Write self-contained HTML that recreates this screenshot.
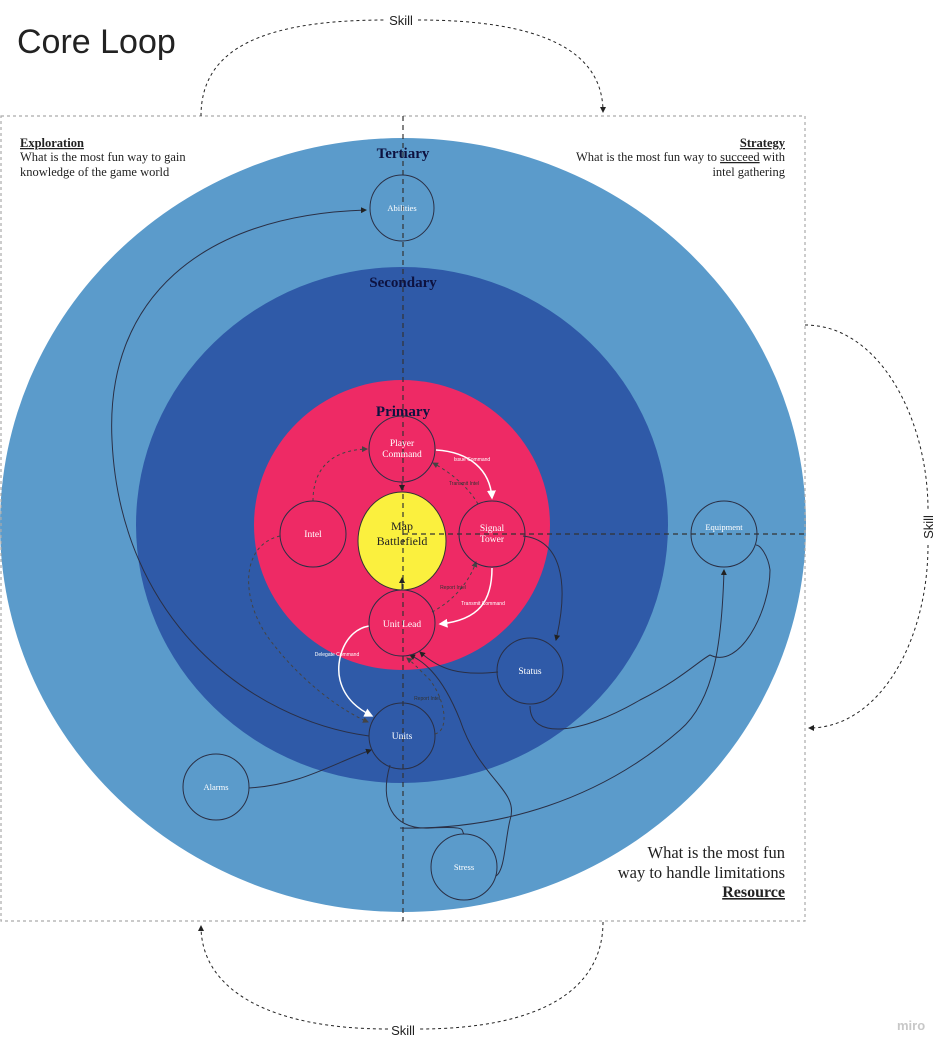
<!DOCTYPE html>
<html><head><meta charset="utf-8"><style>
html,body{margin:0;padding:0;background:#fff;}
svg{display:block;}
.serif{font-family:"Liberation Serif","DejaVu Serif",serif;}
.sans{font-family:"Liberation Sans","DejaVu Sans",sans-serif;}
</style></head><body>
<svg width="950" height="1052" viewBox="0 0 950 1052" xmlns="http://www.w3.org/2000/svg">
<defs>
<marker id="ad" markerWidth="6" markerHeight="6" refX="5" refY="3" orient="auto"><path d="M0,0 L6,3 L0,6z" fill="#222"/></marker>
<marker id="aw" markerWidth="6" markerHeight="6" refX="5" refY="3" orient="auto"><path d="M0,0 L6,3 L0,6z" fill="#fff"/></marker>
<marker id="ag" markerWidth="6" markerHeight="6" refX="5" refY="3" orient="auto"><path d="M0,0 L6,3 L0,6z" fill="#444"/></marker>
</defs>
<text x="17" y="53" font-size="34" fill="#222" class="sans">Core Loop</text>
<text x="897" y="1030" font-size="13" fill="#c8c8c8" class="sans" font-weight="bold">miro</text>

<ellipse cx="403" cy="525" rx="403" ry="387" fill="#5b9bcb"/>
<ellipse cx="402" cy="525" rx="266" ry="258" fill="#2f5aa8"/>
<ellipse cx="402" cy="525" rx="148" ry="145" fill="#ee2a65"/>
<ellipse cx="402" cy="541" rx="44" ry="49" fill="#fbf03e" stroke="#333" stroke-width="1"/>

<rect x="1" y="116" width="804" height="805" fill="none" stroke="#aaa" stroke-width="1.2" stroke-dasharray="3,3"/>
<line x1="403" y1="116" x2="403" y2="921" stroke="#333" stroke-width="1.2" stroke-dasharray="5,4"/>
<line x1="403" y1="534" x2="805" y2="534" stroke="#333" stroke-width="1.2" stroke-dasharray="5,4"/>

<g class="serif" font-weight="bold" fill="#0d1240" text-anchor="middle">
<text x="403" y="158" font-size="15">Tertiary</text>
<text x="403" y="287" font-size="15">Secondary</text>
<text x="403" y="416" font-size="15">Primary</text>
</g>

<g class="serif" fill="#222">
<text x="20" y="147" font-size="12.5" font-weight="bold" text-decoration="underline">Exploration</text>
<text x="20" y="161" font-size="12.5">What is the most fun way to gain</text>
<text x="20" y="176" font-size="12.5">knowledge of the game world</text>
<g text-anchor="end">
<text x="785" y="147" font-size="12.5" font-weight="bold" text-decoration="underline">Strategy</text>
<text x="785" y="161" font-size="12.5">What is the most fun way to <tspan text-decoration="underline">succeed</tspan> with</text>
<text x="785" y="176" font-size="12.5">intel gathering</text>
<text x="785" y="858" font-size="16.5">What is the most fun</text>
<text x="785" y="878" font-size="16.5">way to handle limitations</text>
<text x="785" y="897" font-size="16" font-weight="bold" text-decoration="underline">Resource</text>
</g>
</g>

<g fill="none" stroke="#222" stroke-width="1" stroke-dasharray="3,3">
<path d="M201,116 C201,50 260,20 386,20 M418,20 C540,20 603,50 603,112" marker-end="url(#ad)"/>
<path d="M805,325 C880,325 928,420 928,510 M928,545 C928,640 880,728 809,728" marker-end="url(#ad)"/>
<path d="M603,922 C603,990 540,1029 418,1029 M388,1029 C270,1029 201,990 201,926" marker-end="url(#ad)"/>
</g>
<g class="sans" font-size="13" fill="#222" text-anchor="middle">
<text x="401" y="25">Skill</text>
<text x="403" y="1035">Skill</text>
<text x="0" y="0" transform="translate(933,527) rotate(-90)">Skill</text>
</g>

<g fill="none" stroke="#2a2f45" stroke-width="1">
<path d="M369,736 C250,720 120,620 112,440 C105,300 200,215 366,210" marker-end="url(#ad)"/>
<path d="M249,788 C300,785 330,765 371,750" marker-end="url(#ad)"/>
<path d="M498,672 C460,676 440,670 420,652" marker-end="url(#ad)"/>
<path d="M523,536 C560,540 570,580 556,640" marker-end="url(#ad)"/>
<path d="M390,765 C380,800 390,830 430,828 C470,826 460,830 464,834"/>
<path d="M496,876 C505,870 505,840 510,820 C520,790 480,780 460,720 C440,670 420,660 410,655" marker-end="url(#ad)"/>
<path d="M400,828 C500,830 600,800 680,730 C715,700 722,640 724,570" marker-end="url(#ad)"/>
<path d="M530,706 C530,740 580,735 640,700 C680,680 700,660 710,655 C740,670 770,610 770,570 C768,555 760,545 756,545"/>
<line x1="402" y1="482" x2="402" y2="490" marker-end="url(#ad)"/>
<line x1="402" y1="590" x2="402" y2="578" marker-end="url(#ad)"/>
</g>
<g fill="none" stroke="#444" stroke-width="1" stroke-dasharray="3,3">
<path d="M313,501 C313,470 330,450 367,449" marker-end="url(#ag)"/>
<path d="M478,504 C470,490 455,475 433,463" marker-end="url(#ag)"/>
<path d="M432,612 C455,600 470,580 476,562" marker-end="url(#ag)"/>
<path d="M280,536 C240,545 240,600 270,640 C300,680 340,710 368,722" marker-end="url(#ag)"/>
<path d="M435,734 C450,730 445,700 430,680 C420,670 412,662 407,658" marker-end="url(#ag)"/>
</g>
<g fill="none" stroke="#fff" stroke-width="1.5">
<path d="M436,450 C470,452 490,470 492,498" marker-end="url(#aw)"/>
<path d="M492,568 C492,600 480,620 440,624" marker-end="url(#aw)"/>
<path d="M369,626 C345,630 335,660 340,680 C345,700 360,710 372,716" marker-end="url(#aw)"/>
</g>
<g class="sans" font-size="5" text-anchor="middle">
<text x="472" y="461" fill="#fff">Issue Command</text>
<text x="464" y="485" fill="#333">Transmit Intel</text>
<text x="453" y="589" fill="#333">Report Intel</text>
<text x="483" y="605" fill="#fff">Transmit Command</text>
<text x="337" y="656" fill="#fff">Delegate Command</text>
<text x="427" y="700" fill="#333">Report Intel</text>
</g>

<g fill="none" stroke="#2a2f45" stroke-width="1">
<circle cx="402" cy="449" r="33"/>
<circle cx="313" cy="534" r="33"/>
<circle cx="492" cy="534" r="33"/>
<circle cx="402" cy="623" r="33"/>
<circle cx="530" cy="671" r="33"/>
<circle cx="402" cy="736" r="33"/>
<ellipse cx="402" cy="208" rx="32" ry="33"/>
<circle cx="724" cy="534" r="33"/>
<circle cx="216" cy="787" r="33"/>
<circle cx="464" cy="867" r="33"/>
</g>
<g class="serif" fill="#fff" text-anchor="middle">
<text x="402" y="446" font-size="9.5">Player</text>
<text x="402" y="457" font-size="9.5">Command</text>
<text x="313" y="537" font-size="9.5">Intel</text>
<text x="492" y="531" font-size="9.5">Signal</text>
<text x="492" y="542" font-size="9.5">Tower</text>
<text x="402" y="627" font-size="9.5">Unit Lead</text>
<text x="530" y="674" font-size="9.5">Status</text>
<text x="402" y="739" font-size="9.5">Units</text>
<text x="402" y="211" font-size="8.5">Abilities</text>
<text x="724" y="530" font-size="8.5">Equipment</text>
<text x="216" y="790" font-size="8.5">Alarms</text>
<text x="464" y="870" font-size="8.5">Stress</text>
<text x="402" y="530" font-size="12" fill="#222">Map</text>
<text x="402" y="545" font-size="12" fill="#222">Battlefield</text>
</g>
</svg>
</body></html>
